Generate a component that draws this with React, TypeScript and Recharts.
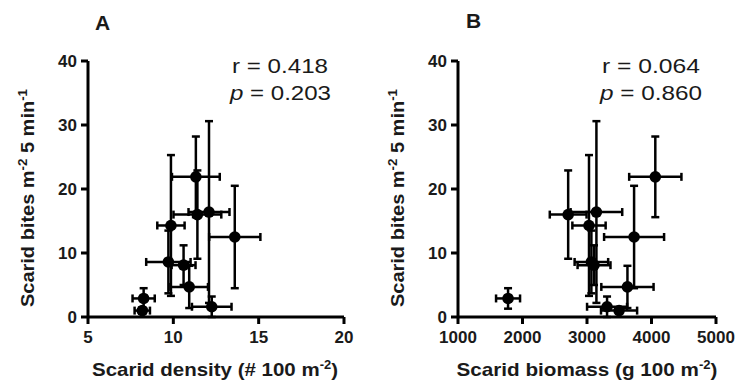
import { ScatterChart, Scatter, XAxis, YAxis, ErrorBar } from 'recharts';

// per-site means and errors, same site order in both panels
const bites = [2.9, 1.0, 8.6, 14.3, 8.1, 4.7, 21.9, 16.0, 16.4, 1.6, 12.5];
const bitesErr = [1.6, 0.5, 4.9, 11.0, 3.1, 3.3, 6.3, 6.9, 14.2, 1.6, 8.0];
const density = [8.26, 8.18, 9.71, 9.86, 10.6, 10.93, 11.32, 11.41, 12.09, 12.25, 13.6];
const densityErr = [0.65, 0.45, 1.3, 0.8, 0.7, 1.1, 1.4, 1.4, 1.2, 1.16, 1.5];
const biomass = [1776, 3497, 3068, 3031, 3109, 3627, 4059, 2708, 3146, 3311, 3730];
const biomassErr = [186, 280, 260, 258, 255, 405, 405, 285, 400, 310, 465];

const biteTicks = [0, 10, 20, 30, 40];
const densityTicks = [5, 10, 15, 20];
const biomassTicks = [1000, 2000, 3000, 4000, 5000];

const FONT = '"Liberation Sans", Arial, sans-serif';
const INK = '#1a1a1a';

const densityRows = density.map((x, i) => ({ x, y: bites[i], ex: densityErr[i], ey: bitesErr[i] }));
const biomassRows = biomass.map((x, i) => ({ x, y: bites[i], ex: biomassErr[i], ey: bitesErr[i] }));

const tickStyle = { fill: INK, fontSize: 17, fontWeight: 'bold', fontFamily: FONT };
const lineStyle = { stroke: '#000', strokeWidth: 3 };

// make sure the spines and ticks come out as heavy as in the figure
const axisCss = `
.recharts-cartesian-axis-line, .recharts-cartesian-axis-tick-line { stroke: #000; stroke-width: 3px; }
.recharts-errorBar line { stroke: #000; stroke-width: 2.5px; }
`;

const Dot = (p: any) => <circle cx={p.cx} cy={p.cy} r={5.8} fill="#000" />;

function Panel({ rows, xTicks, yWidth, right }: { rows: any[]; xTicks: number[]; yWidth: number; right: number }) {
  return (
    <ScatterChart width={368} height={387} margin={{ top: 61, right, bottom: 40, left: 0 }}>
      <XAxis
        type="number"
        dataKey="x"
        domain={[xTicks[0], xTicks[xTicks.length - 1]]}
        ticks={xTicks}
        height={30}
        axisLine={lineStyle}
        tickLine={lineStyle}
        tickSize={7}
        tickMargin={7}
        tick={tickStyle}
      />
      <YAxis
        type="number"
        dataKey="y"
        domain={[0, 40]}
        ticks={biteTicks}
        width={yWidth}
        axisLine={lineStyle}
        tickLine={lineStyle}
        tickSize={7}
        tickMargin={4}
        tick={tickStyle}
      />
      <Scatter data={rows} shape={Dot} isAnimationActive={false}>
        <ErrorBar dataKey="ex" direction="x" width={4} stroke="#000" strokeWidth={2.5} />
        <ErrorBar dataKey="ey" direction="y" width={4} stroke="#000" strokeWidth={2.5} />
      </Scatter>
    </ScatterChart>
  );
}

function BitesTitle({ x }: { x: number }) {
  return (
    <text transform={`translate(${x},198) rotate(-90)`} fontSize={18} fontWeight="bold" textAnchor="middle" textLength={218} lengthAdjust="spacingAndGlyphs">
      Scarid bites m<tspan dy={-7} fontSize={12}>-2</tspan>
      <tspan dy={7}> 5 min</tspan>
      <tspan dy={-7} fontSize={12}>-1</tspan>
    </text>
  );
}

export default function App() {
  return (
    <div style={{ position: 'absolute', left: 0, top: 0, width: 737, height: 387, background: '#fff', fontFamily: FONT }}>
      <style>{axisCss}</style>
      <div style={{ position: 'absolute', left: 0, top: 0 }}>
        <Panel rows={densityRows} xTicks={densityTicks} yWidth={88} right={24} />
      </div>
      <div style={{ position: 'absolute', left: 369, top: 0 }}>
        <Panel rows={biomassRows} xTicks={biomassTicks} yWidth={89} right={21} />
      </div>
      <svg width={737} height={387} style={{ position: 'absolute', left: 0, top: 0, pointerEvents: 'none' }} fontFamily={FONT} fill={INK}>
        <text x={95} y={30} fontSize={21} fontWeight="bold">A</text>
        <text x={466} y={28} fontSize={21} fontWeight="bold">B</text>

        <text x={328} y={73} fontSize={20} textAnchor="end" textLength={96} lengthAdjust="spacingAndGlyphs">r = 0.418</text>
        <text x={331} y={100} fontSize={20} textAnchor="end" textLength={101} lengthAdjust="spacingAndGlyphs">
          <tspan fontStyle="italic">p</tspan> = 0.203
        </text>
        <text x={700} y={73} fontSize={20} textAnchor="end" textLength={98} lengthAdjust="spacingAndGlyphs">r = 0.064</text>
        <text x={702} y={100} fontSize={20} textAnchor="end" textLength={102} lengthAdjust="spacingAndGlyphs">
          <tspan fontStyle="italic">p</tspan> = 0.860
        </text>

        <BitesTitle x={34} />
        <BitesTitle x={404} />

        <text x={215} y={376} fontSize={19} fontWeight="bold" textAnchor="middle" textLength={246} lengthAdjust="spacingAndGlyphs">
          Scarid density (# 100 m<tspan dy={-7} fontSize={12}>-2</tspan>
          <tspan dy={7}>)</tspan>
        </text>
        <text x={587} y={376} fontSize={19} fontWeight="bold" textAnchor="middle" textLength={261} lengthAdjust="spacingAndGlyphs">
          Scarid biomass (g 100 m<tspan dy={-7} fontSize={12}>-2</tspan>
          <tspan dy={7}>)</tspan>
        </text>
      </svg>
    </div>
  );
}
